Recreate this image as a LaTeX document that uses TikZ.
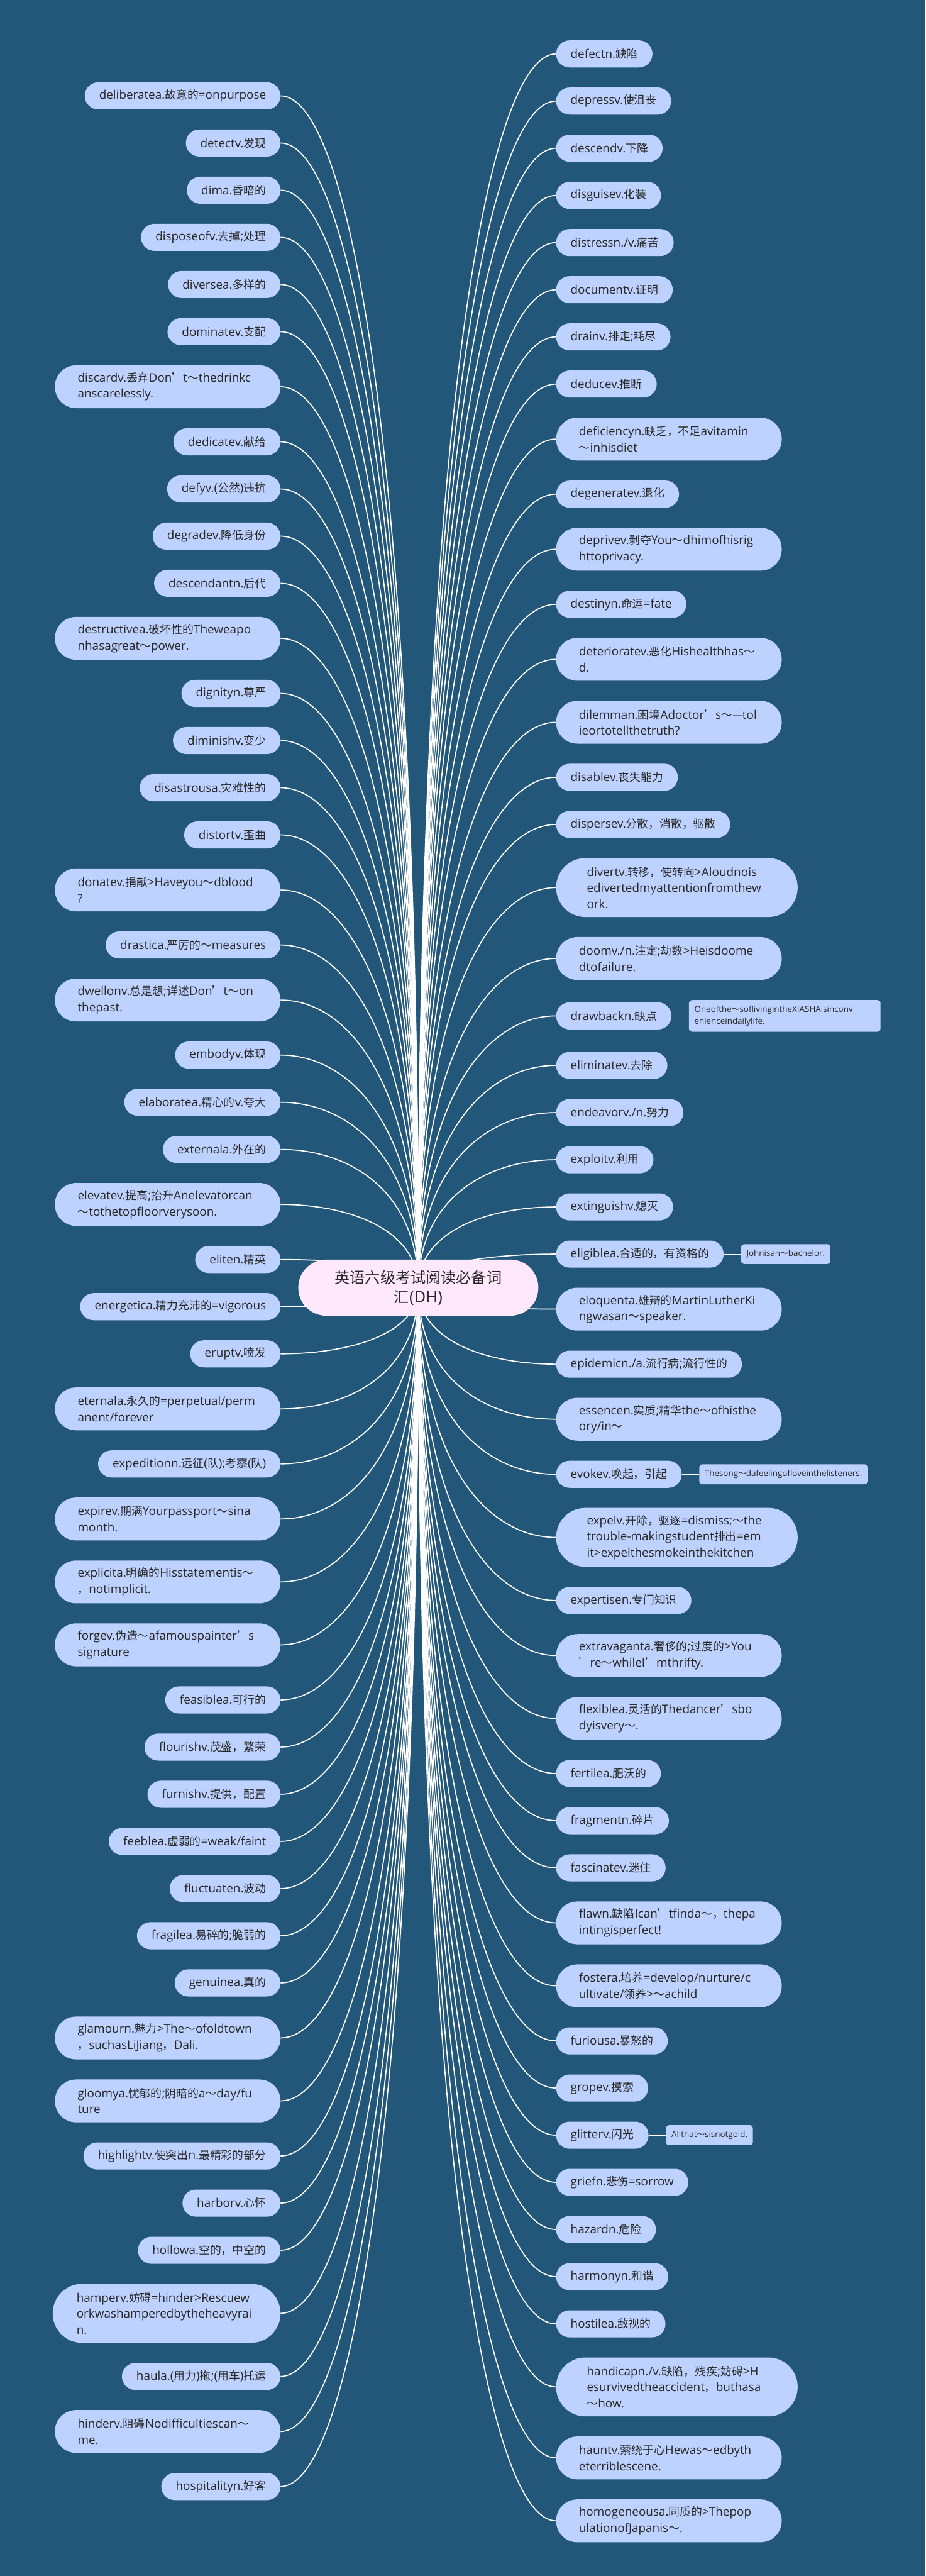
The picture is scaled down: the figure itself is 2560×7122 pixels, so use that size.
\documentclass[tikz,border=0pt]{standalone}
\usepackage{fontspec}
\setmainfont{Open Sans}[Scale=1.06]
\newfontfamily\latfont{Open Sans}[Scale=1.06]
\newfontfamily\cjkfont{Noto Sans CJK SC}
\XeTeXinterchartokenstate=1
\newXeTeXintercharclass\cjkclass
\newcount\cjkcnt
\newcommand\cjkrange[2]{\cjkcnt=#1\relax
  \loop\XeTeXcharclass\cjkcnt=\cjkclass\relax
  \ifnum\cjkcnt<#2\relax\advance\cjkcnt by 1\relax\repeat}
\cjkrange{"3000}{"303F}
\cjkrange{"4E00}{"9FFF}
\cjkrange{"FF00}{"FFEF}
\cjkrange{"2018}{"201D}
\XeTeXcharclass"2014=\cjkclass
\XeTeXinterchartoks 0 \cjkclass={\cjkfont}
\XeTeXinterchartoks 4095 \cjkclass={\cjkfont}
\XeTeXinterchartoks \cjkclass 0={\latfont}
\XeTeXinterchartoks \cjkclass 4095={\latfont}
\usetikzlibrary{positioning,calc,backgrounds}
\definecolor{bgblue}{RGB}{34,87,122}
\definecolor{leafblue}{RGB}{190,210,255}
\definecolor{ink}{RGB}{40,40,40}
\definecolor{rootpink}{RGB}{255,232,252}
\newcommand\leaffont{\fontsize{31pt}{44.4pt}\selectfont}
\newcommand\rootfont{\fontsize{42pt}{54pt}\selectfont}
\newcommand\notefont{\fontsize{22pt}{32pt}\selectfont}
\begin{document}
\begin{tikzpicture}[x=1pt,y=1pt,
  leaf/.style={fill=leafblue,text=ink,font=\leaffont,rounded corners=37.5pt,minimum height=75pt,inner xsep=40pt,inner ysep=10pt},
  leafii/.style={leaf,text width=498pt,align=left,rounded corners=59pt,minimum height=118.6pt,inner xsep=63pt},
  leafiii/.style={leafii,rounded corners=81pt,minimum height=163pt,inner xsep=85pt},
  note/.style={fill=leafblue,text=ink,font=\notefont,rounded corners=8pt,minimum height=55pt,inner xsep=15pt,inner ysep=16pt,align=left},
  root/.style={fill=rootpink,text=ink,font=\rootfont,rounded corners=77pt,minimum width=664pt,minimum height=155pt,align=center},
  link/.style={draw=white,line width=3pt},
  lnext/.style={below=55pt of #1.south east,anchor=north east},
  rnext/.style={below=55pt of #1.south west,anchor=north west}]
  \useasboundingbox (0,0) rectangle (2560,-7122);

  \node[root] (root) at (1157,-3560) {英语六级考试阅读必备词\\汇(DH)};

  \node[leaf,anchor=east] (l1) at (776,-265) {deliberatea.故意的=onpurpose};
  \node[leaf,lnext=l1] (l2) {detectv.发现};
  \node[leaf,lnext=l2] (l3) {dima.昏暗的};
  \node[leaf,lnext=l3] (l4) {disposeofv.去掉;处理};
  \node[leaf,lnext=l4] (l5) {diversea.多样的};
  \node[leaf,lnext=l5] (l6) {dominatev.支配};
  \node[leafii,lnext=l6] (l7) {discardv.丢弃Don’t～thedrinkc\\anscarelessly.};
  \node[leaf,lnext=l7] (l8) {dedicatev.献给};
  \node[leaf,lnext=l8] (l9) {defyv.(公然)违抗};
  \node[leaf,lnext=l9] (l10) {degradev.降低身份};
  \node[leaf,lnext=l10] (l11) {descendantn.后代};
  \node[leafii,lnext=l11] (l12) {destructivea.破坏性的Theweapo\\nhasagreat～power.};
  \node[leaf,lnext=l12] (l13) {dignityn.尊严};
  \node[leaf,lnext=l13] (l14) {diminishv.变少};
  \node[leaf,lnext=l14] (l15) {disastrousa.灾难性的};
  \node[leaf,lnext=l15] (l16) {distortv.歪曲};
  \node[leafii,lnext=l16] (l17) {donatev.捐献>Haveyou～dblood\\?};
  \node[leaf,lnext=l17] (l18) {drastica.严厉的～measures};
  \node[leafii,lnext=l18] (l19) {dwellonv.总是想;详述Don’t～on\\thepast.};
  \node[leaf,lnext=l19] (l20) {embodyv.体现};
  \node[leaf,lnext=l20] (l21) {elaboratea.精心的v.夸大};
  \node[leaf,lnext=l21] (l22) {externala.外在的};
  \node[leafii,lnext=l22] (l23) {elevatev.提高;抬升Anelevatorcan\\～tothetopfloorverysoon.};
  \node[leaf,lnext=l23] (l24) {eliten.精英};
  \node[leaf,lnext=l24] (l25) {energetica.精力充沛的=vigorous};
  \node[leaf,lnext=l25] (l26) {eruptv.喷发};
  \node[leafii,lnext=l26] (l27) {eternala.永久的=perpetual/perm\\anent/forever};
  \node[leaf,lnext=l27] (l28) {expeditionn.远征(队);考察(队)};
  \node[leafii,lnext=l28] (l29) {expirev.期满Yourpassport～sina\\month.};
  \node[leafii,lnext=l29] (l30) {explicita.明确的Hisstatementis～\\，notimplicit.};
  \node[leafii,lnext=l30] (l31) {forgev.伪造～afamouspainter’s\\signature};
  \node[leaf,lnext=l31] (l32) {feasiblea.可行的};
  \node[leaf,lnext=l32] (l33) {flourishv.茂盛，繁荣};
  \node[leaf,lnext=l33] (l34) {furnishv.提供，配置};
  \node[leaf,lnext=l34] (l35) {feeblea.虚弱的=weak/faint};
  \node[leaf,lnext=l35] (l36) {fluctuaten.波动};
  \node[leaf,lnext=l36] (l37) {fragilea.易碎的;脆弱的};
  \node[leaf,lnext=l37] (l38) {genuinea.真的};
  \node[leafii,lnext=l38] (l39) {glamourn.魅力>The～ofoldtown\\，suchasLiJiang，Dali.};
  \node[leafii,lnext=l39] (l40) {gloomya.忧郁的;阴暗的a～day/fu\\ture};
  \node[leaf,lnext=l40] (l41) {highlightv.使突出n.最精彩的部分};
  \node[leaf,lnext=l41] (l42) {harborv.心怀};
  \node[leaf,lnext=l42] (l43) {hollowa.空的，中空的};
  \node[leafiii,lnext=l43,inner xsep=66pt] (l44) {hamperv.妨碍=hinder>Rescuew\\orkwashamperedbytheheavyrai\\n.};
  \node[leaf,lnext=l44] (l45) {haula.(用力)拖;(用车)托运};
  \node[leafii,lnext=l45] (l46) {hinderv.阻碍Nodifficultiescan～\\me.};
  \node[leaf,lnext=l46] (l47) {hospitalityn.好客};

  \node[leaf,anchor=west] (r1) at (1538,-149) {defectn.缺陷};
  \node[leaf,rnext=r1] (r2) {depressv.使沮丧};
  \node[leaf,rnext=r2] (r3) {descendv.下降};
  \node[leaf,rnext=r3] (r4) {disguisev.化装};
  \node[leaf,rnext=r4] (r5) {distressn./v.痛苦};
  \node[leaf,rnext=r5] (r6) {documentv.证明};
  \node[leaf,rnext=r6] (r7) {drainv.排走;耗尽};
  \node[leaf,rnext=r7] (r8) {deducev.推断};
  \node[leafii,rnext=r8] (r9) {deficiencyn.缺乏，不足avitamin\\～inhisdiet};
  \node[leaf,rnext=r9] (r10) {degeneratev.退化};
  \node[leafii,rnext=r10] (r11) {deprivev.剥夺You～dhimofhisrig\\httoprivacy.};
  \node[leaf,rnext=r11] (r12) {destinyn.命运=fate};
  \node[leafii,rnext=r12] (r13) {deterioratev.恶化Hishealthhas～\\d.};
  \node[leafii,rnext=r13] (r14) {dilemman.困境Adoctor’s～—tol\\ieortotellthetruth?};
  \node[leaf,rnext=r14] (r15) {disablev.丧失能力};
  \node[leaf,rnext=r15] (r16) {dispersev.分散，消散，驱散};
  \node[leafiii,rnext=r16] (r17) {divertv.转移，使转向>Aloudnois\\edivertedmyattentionfromthew\\ork.};
  \node[leafii,rnext=r17] (r18) {doomv./n.注定;劫数>Heisdoome\\dtofailure.};
  \node[leaf,rnext=r18,yshift=-6.5pt] (r19) {drawbackn.缺点};
  \node[leaf,rnext=r19,yshift=-6.5pt] (r20) {eliminatev.去除};
  \node[leaf,rnext=r20] (r21) {endeavorv./n.努力};
  \node[leaf,rnext=r21] (r22) {exploitv.利用};
  \node[leaf,rnext=r22] (r23) {extinguishv.熄灭};
  \node[leaf,rnext=r23] (r24) {eligiblea.合适的，有资格的};
  \node[leafii,rnext=r24] (r25) {eloquenta.雄辩的MartinLutherKi\\ngwasan～speaker.};
  \node[leaf,rnext=r25] (r26) {epidemicn./a.流行病;流行性的};
  \node[leafii,rnext=r26] (r27) {essencen.实质;精华the～ofhisthe\\ory/in～};
  \node[leaf,rnext=r27] (r28) {evokev.唤起，引起};
  \node[leafiii,rnext=r28] (r29) {expelv.开除，驱逐=dismiss;～the\\trouble-makingstudent排出=em\\it>expelthesmokeinthekitchen};
  \node[leaf,rnext=r29] (r30) {expertisen.专门知识};
  \node[leafii,rnext=r30] (r31) {extravaganta.奢侈的;过度的>You\\’re～whileI’mthrifty.};
  \node[leafii,rnext=r31] (r32) {flexiblea.灵活的Thedancer’sbo\\dyisvery～.};
  \node[leaf,rnext=r32] (r33) {fertilea.肥沃的};
  \node[leaf,rnext=r33] (r34) {fragmentn.碎片};
  \node[leaf,rnext=r34] (r35) {fascinatev.迷住};
  \node[leafii,rnext=r35] (r36) {flawn.缺陷Ican’tfinda～，thepa\\intingisperfect!};
  \node[leafii,rnext=r36] (r37) {fostera.培养=develop/nurture/c\\ultivate/领养>～achild};
  \node[leaf,rnext=r37] (r38) {furiousa.暴怒的};
  \node[leaf,rnext=r38] (r39) {gropev.摸索};
  \node[leaf,rnext=r39] (r40) {glitterv.闪光};
  \node[leaf,rnext=r40] (r41) {griefn.悲伤=sorrow};
  \node[leaf,rnext=r41] (r42) {hazardn.危险};
  \node[leaf,rnext=r42] (r43) {harmonyn.和谐};
  \node[leaf,rnext=r43] (r44) {hostilea.敌视的};
  \node[leafiii,rnext=r44] (r45) {handicapn./v.缺陷，残疾;妨碍>H\\esurvivedtheaccident，buthasa\\～how.};
  \node[leafii,rnext=r45] (r46) {hauntv.萦绕于心Hewas～edbyth\\eterriblescene.};
  \node[leafii,rnext=r46] (r47) {homogeneousa.同质的>Thepop\\ulationofJapanis～.};

  \node[note,text width=500pt,right=48pt of r19] (n1) {Oneofthe～soflivingintheXIASHAisinconv\\enienceindailylife.};
  \node[note,right=48pt of r24] (n2) {Johnisan～bachelor.};
  \node[note,right=48pt of r28] (n3) {Thesong～dafeelingofloveinthelisteners.};
  \node[note,right=48pt of r40] (n4) {Allthat～sisnotgold.};

  \foreach \a/\b in {r19/n1,r24/n2,r28/n3,r40/n4}{
    \draw[white,line width=2pt] (\a) -- (\b);
  }

  \begin{scope}[on background layer]
    \fill[bgblue] (0,0) rectangle (2560,-7122);
    \foreach \i in {1,...,47}{
      \draw[link] (l\i.east) .. controls +(190,0) and ($(root.center)!0.7!(root.center|-l\i.east)$) .. (root.center);
      \draw[link] (r\i.west) .. controls +(-190,0) and ($(root.center)!0.7!(root.center|-r\i.west)$) .. (root.center);
    }
  \end{scope}
\end{tikzpicture}
\end{document}
